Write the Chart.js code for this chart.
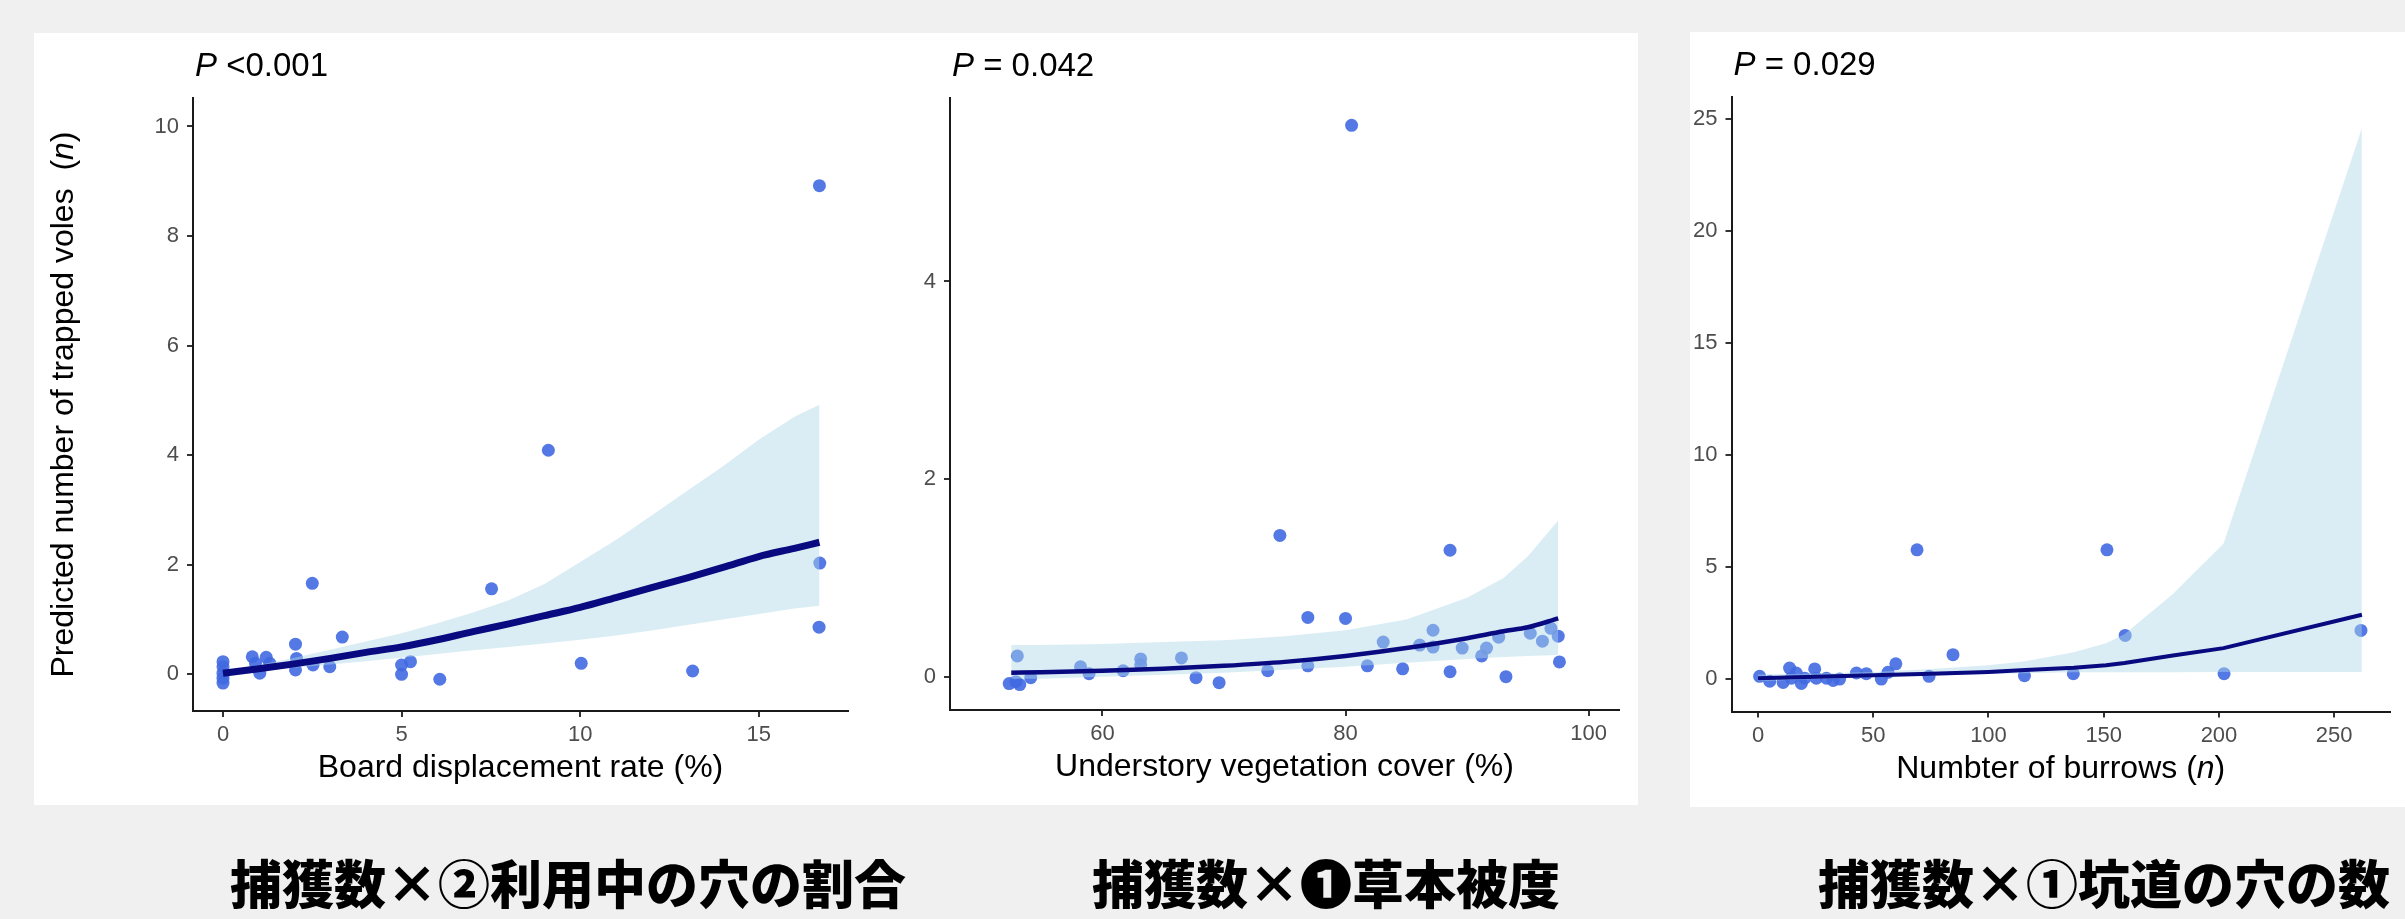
<!DOCTYPE html>
<html>
<head>
<meta charset="utf-8">
<script src="https://cdn.jsdelivr.net/npm/chart.js@4.4.1/dist/chart.umd.min.js"></script>
<style>
  body { margin: 0; width: 2405px; height: 919px; overflow: hidden; position: relative; background: #f0f0f0; }
  .sheet { position: absolute; background: #fff; }
  canvas { position: absolute; }
  .cap { position: absolute; top: 852px; font-family: "Noto Sans CJK JP", sans-serif; font-weight: 900;
         font-size: 52px; line-height: 60px; color: #000; white-space: nowrap; }
</style>
</head>
<body>
<div class="sheet" style="left:34px;top:33px;width:1604px;height:772px"></div>
<div class="sheet" style="left:1690px;top:32px;width:715px;height:775px"></div>
<canvas id="board" width="820" height="772" style="left:36px;top:33px"></canvas>
<canvas id="cover" width="757" height="772" style="left:870px;top:33px"></canvas>
<canvas id="burrow" width="740" height="774" style="left:1660px;top:33px"></canvas>
<div class="cap" style="left:230px">捕獲数×②利用中の穴の割合</div>
<div class="cap" style="left:1092px">捕獲数×❶草本被度</div>
<div class="cap" style="left:1818px">捕獲数×①坑道の穴の数</div>

<script>
// panel 1: board displacement rate
const boardX = [0, 0, 0, 0, 0, 0.82, 0.91, 1.03, 1.21, 1.31, 2.03, 2.06, 2.03, 2.5, 2.52, 2.99, 3.34,
                5.0, 5.0, 5.25, 6.07, 7.52, 9.11, 10.03, 13.15, 16.69, 16.71, 16.7];
const boardY = [0.23, 0.14, 0.02, -0.07, -0.16, 0.32, 0.2, 0.02, 0.31, 0.2, 0.55, 0.29, 0.08, 1.66, 0.17, 0.14, 0.68,
                0.0, 0.17, 0.23, -0.09, 1.56, 4.09, 0.2, 0.06, 0.86, 2.03, 8.92];
const boardFitX = [0, 1, 2, 3, 4, 5, 6, 7, 8, 9, 10, 11, 12, 13, 14, 15, 16, 16.7];
const boardFit = [0.02, 0.1, 0.19, 0.29, 0.4, 0.5, 0.63, 0.78, 0.92, 1.07, 1.22, 1.4, 1.58, 1.76, 1.95, 2.15, 2.3, 2.41];
const boardUpper = [0.06, 0.17, 0.3, 0.45, 0.6, 0.75, 0.93, 1.13, 1.35, 1.65, 2.05, 2.45, 2.9, 3.35, 3.8, 4.28, 4.7, 4.92];
const boardLower = [-0.01, 0.06, 0.12, 0.18, 0.24, 0.3, 0.37, 0.44, 0.5, 0.56, 0.63, 0.71, 0.8, 0.9, 1.0, 1.1, 1.2, 1.25];
const boardTicksX = [0, 5, 10, 15];
const boardTicksY = [0, 2, 4, 6, 8, 10];

// panel 2: understory vegetation cover
const coverX = [52.33, 52.88, 53.2, 53.0, 54.1, 58.2, 58.9, 61.7, 63.15, 63.15, 66.5, 67.7, 69.6, 73.6, 74.6,
                76.9, 76.9, 80.0, 80.5, 81.8, 83.1, 84.7, 86.1, 87.2, 87.2, 88.6, 88.6, 89.6, 91.2, 91.6,
                92.6, 93.2, 95.2, 96.2, 96.9, 97.5, 97.6];
const coverY = [-0.07, -0.05, -0.08, 0.21, -0.01, 0.1, 0.03, 0.06, 0.18, 0.12, 0.19, -0.01, -0.06, 0.06, 1.43,
                0.6, 0.11, 0.59, 5.58, 0.11, 0.35, 0.08, 0.32, 0.47, 0.3, 1.28, 0.05, 0.29, 0.21, 0.29,
                0.4, 0.0, 0.44, 0.36, 0.49, 0.41, 0.15];
const coverFitX = [52.5, 55, 60, 65, 70, 75, 80, 85, 90, 93, 95, 97.5];
const coverFit = [0.04, 0.045, 0.06, 0.08, 0.11, 0.15, 0.21, 0.29, 0.39, 0.46, 0.5, 0.59];
const coverUpper = [0.32, 0.32, 0.33, 0.35, 0.37, 0.41, 0.47, 0.58, 0.8, 1.0, 1.22, 1.58];
const coverLower = [-0.02, -0.02, 0.0, 0.02, 0.04, 0.07, 0.1, 0.14, 0.18, 0.2, 0.21, 0.22];
const coverTicksX = [60, 80, 100];
const coverTicksY = [0, 2, 4];

// panel 3: number of burrows
const burrowX = [0.7, 5.1, 10.9, 13.7, 14.5, 16.6, 18.8, 20.3, 24.6, 25.3, 29.7, 32.6, 35.4, 42.7, 47,
                 53.5, 56.4, 59.8, 69, 74.2, 84.6, 115.6, 136.8, 151.4, 159.3, 202.2, 261.6];
const burrowY = [0.12, -0.1, -0.15, 0.49, 0.04, 0.27, -0.2, 0.04, 0.45, 0.04, 0.04, -0.06, 0.0, 0.27, 0.24,
                 0.0, 0.3, 0.68, 5.77, 0.12, 1.09, 0.15, 0.24, 5.77, 1.95, 0.24, 2.17];
const burrowFitX = [0, 25, 50, 75, 100, 116, 137, 151, 159, 180, 202, 262];
const burrowFit = [0.04, 0.1, 0.17, 0.24, 0.32, 0.4, 0.5, 0.62, 0.72, 1.05, 1.38, 2.87];
const burrowUpper = [0.2, 0.25, 0.32, 0.45, 0.62, 0.8, 1.2, 1.6, 2.0, 3.8, 6.05, 24.6];
const burrowLower = [-0.1, 0.0, 0.08, 0.15, 0.22, 0.26, 0.3, 0.3, 0.3, 0.3, 0.32, 0.32];
const burrowTicksX = [0, 50, 100, 150, 200, 250];
const burrowTicksY = [0, 5, 10, 15, 20, 25];

const FONT = '"Liberation Sans", Arial, sans-serif';
const pts = (xs, ys) => xs.map((x, i) => ({ x: x, y: ys[i] }));

// rich text: list of [text, italic]
function drawRich(ctx, segs, x, y, align, size) {
    const font = it => (it ? 'italic ' : '') + size + 'px ' + FONT;
    let w = 0;
    segs.forEach(s => { ctx.font = font(s[1]); w += ctx.measureText(s[0]).width; });
    let cx = align === 'center' ? x - w / 2 : x;
    ctx.textAlign = 'left';
    segs.forEach(s => {
        ctx.font = font(s[1]);
        ctx.fillText(s[0], cx, y);
        cx += ctx.measureText(s[0]).width;
    });
}

const textLayer = {
    id: 'textLayer',
    afterDraw(chart, args, o) {
        const ctx = chart.ctx, a = chart.chartArea;
        ctx.save();
        ctx.fillStyle = '#000';
        ctx.textBaseline = 'alphabetic';
        drawRich(ctx, o.pLabel, a.left + 2, a.top - 22, 'left', 33);
        drawRich(ctx, o.xTitle, (a.left + a.right) / 2, a.bottom + 66, 'center', 32);
        if (o.yTitle) {
            ctx.translate(a.left - 120, (a.top + a.bottom) / 2);
            ctx.rotate(-Math.PI / 2);
            drawRich(ctx, o.yTitle, 0, 0, 'center', 32);
        }
        ctx.restore();
    }
};

function axis(min, max, ticks, size, pad) {
    return {
        type: 'linear',
        min: min,
        max: max,
        afterBuildTicks: s => { s.ticks = ticks.map(v => ({ value: v })); },
        afterFit: s => { if (s.isHorizontal()) s.height = size; else s.width = size; },
        grid: { drawOnChartArea: false, drawTicks: true, tickLength: 6, color: '#333', tickColor: '#333', lineWidth: 2 },
        border: { display: true, color: '#1a1a1a', width: 2 },
        ticks: { color: '#4d4d4d', font: { size: 22, family: FONT }, padding: pad }
    };
}

function makePanel(id, p) {
    new Chart(document.getElementById(id), {
        type: 'scatter',
        data: {
            datasets: [
                { data: pts(p.fitX, p.fit), showLine: true, borderColor: '#0a0a80', borderWidth: p.lw,
                  pointRadius: 0, fill: false, cubicInterpolationMode: p.smooth ? 'monotone' : 'default', order: 1 },
                { data: pts(p.fitX, p.upper), showLine: true, borderColor: 'transparent', borderWidth: 0,
                  pointRadius: 0, fill: '+1', backgroundColor: 'rgba(173, 216, 230, 0.45)', order: 2 },
                { data: pts(p.fitX, p.lower), showLine: true, borderColor: 'transparent', borderWidth: 0,
                  pointRadius: 0, fill: false, order: 2 },
                { data: pts(p.x, p.y), pointRadius: 6.5, pointHoverRadius: 6.5,
                  backgroundColor: 'rgba(65, 105, 225, 0.9)', borderWidth: 0, order: 3 }
            ]
        },
        options: {
            responsive: false,
            animation: false,
            events: [],
            layout: { padding: { top: p.padTop, right: p.padRight, left: 0, bottom: 0 } },
            scales: {
                x: axis(p.xMin, p.xMax, p.ticksX, p.xSize, 5),
                y: axis(p.yMin, p.yMax, p.ticksY, p.ySize, 8)
            },
            plugins: {
                legend: { display: false },
                tooltip: { enabled: false },
                textLayer: { pLabel: p.pLabel, xTitle: p.xTitle, yTitle: p.yTitle }
            }
        },
        plugins: [textLayer]
    });
}

makePanel('board', {
    x: boardX, y: boardY, fitX: boardFitX, fit: boardFit, upper: boardUpper, lower: boardLower,
    ticksX: boardTicksX, ticksY: boardTicksY, xMin: -0.84, xMax: 17.5, yMin: -0.67, yMax: 10.52,
    lw: 7, smooth: true, padTop: 65, padRight: 8, xSize: 94, ySize: 157,
    pLabel: [['P', true], [' <0.001', false]],
    xTitle: [['Board displacement rate (%)', false]],
    yTitle: [['Predicted number of trapped voles  (', false], ['n', true], [')', false]]
});

makePanel('cover', {
    x: coverX, y: coverY, fitX: coverFitX, fit: coverFit, upper: coverUpper, lower: coverLower,
    ticksX: coverTicksX, ticksY: coverTicksY, xMin: 47.46, xMax: 102.5, yMin: -0.337, yMax: 5.857,
    lw: 4.5, smooth: true, padTop: 65, padRight: 8, xSize: 95, ySize: 80,
    pLabel: [['P', true], [' = 0.042', false]],
    xTitle: [['Understory vegetation cover (%)', false]]
});

makePanel('burrow', {
    x: burrowX, y: burrowY, fitX: burrowFitX, fit: burrowFit, upper: burrowUpper, lower: burrowLower,
    ticksX: burrowTicksX, ticksY: burrowTicksY, xMin: -11.5, xMax: 274.2, yMin: -1.45, yMax: 26.0,
    lw: 4, smooth: false, padTop: 64, padRight: 10, xSize: 95.5, ySize: 71.5,
    pLabel: [['P', true], [' = 0.029', false]],
    xTitle: [['Numbter of burrows (', false], ['n', true], [')', false]]
});
</script>
</body>
</html>
